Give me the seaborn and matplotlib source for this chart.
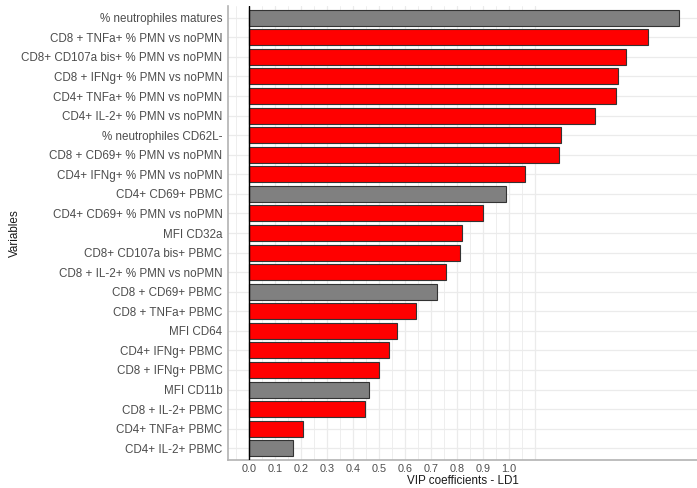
import numpy as np
import pandas as pd
import matplotlib
matplotlib.use("Agg")
import matplotlib.pyplot as plt
import seaborn as sns

variables = [
    "% neutrophiles matures",
    "CD8 + TNFa+ % PMN vs noPMN",
    "CD8+ CD107a bis+ % PMN vs noPMN",
    "CD8 + IFNg+ % PMN vs noPMN",
    "CD4+ TNFa+ % PMN vs noPMN",
    "CD4+ IL-2+ % PMN vs noPMN",
    "% neutrophiles CD62L-",
    "CD8 + CD69+ % PMN vs noPMN",
    "CD4+ IFNg+ % PMN vs noPMN",
    "CD4+ CD69+ PBMC",
    "CD4+ CD69+ % PMN vs noPMN",
    "MFI CD32a",
    "CD8+ CD107a bis+ PBMC",
    "CD8 + IL-2+ % PMN vs noPMN",
    "CD8 + CD69+ PBMC",
    "CD8 + TNFa+ PBMC",
    "MFI CD64",
    "CD4+ IFNg+ PBMC",
    "CD8 + IFNg+ PBMC",
    "MFI CD11b",
    "CD8 + IL-2+ PBMC",
    "CD4+ TNFa+ PBMC",
    "CD4+ IL-2+ PBMC",
]
vip = [1.653, 1.535, 1.450, 1.419, 1.412, 1.330, 1.201, 1.192, 1.062, 0.989,
       0.899, 0.818, 0.809, 0.756, 0.722, 0.642, 0.568, 0.537, 0.498, 0.462,
       0.446, 0.205, 0.168]
group = ["grey", "red", "red", "red", "red", "red", "red", "red", "red", "grey",
         "red", "red", "red", "red", "grey", "red", "red", "red", "red", "grey",
         "red", "red", "grey"]

df = pd.DataFrame({"variable": variables, "vip": vip, "group": group})

sns.set_theme(style="white")
plt.rcParams["font.family"] = ["Liberation Sans", "DejaVu Sans"]

fig = plt.figure(figsize=(6.97, 4.88), dpi=100)
ax = fig.add_axes([228 / 697, 28 / 488, 469 / 697, 454 / 488])

# grid first (ggplot-like minimal theme)
for x in np.arange(-0.05, 1.11, 0.05):
    ax.axvline(x, color="#EBEBEB", lw=0.6 if abs(round(x * 20) % 2) == 1 else 0.9, zorder=0)
for i in range(len(variables)):
    ax.axhline(i, color="#EBEBEB", lw=0.9, zorder=0)

sns.barplot(data=df, x="vip", y="variable", hue="group",
            palette={"red": "#FF0000", "grey": "#808080"}, saturation=1,
            order=variables, width=0.82, edgecolor="#333333", linewidth=0.8,
            legend=False, ax=ax, zorder=2)

ax.axvline(0, color="black", lw=1.0, zorder=3)

ax.set_xlim(-0.082, 1.723)
ax.set_ylim(len(variables) - 0.4, -0.6)
ax.set_xticks(np.round(np.arange(0, 1.01, 0.1), 1))
ax.set_xticklabels([f"{t:.1f}" for t in np.arange(0, 1.01, 0.1)])
ax.tick_params(axis="both", length=0, labelsize=7.8, colors="#4D4D4D", pad=3)
ax.tick_params(axis="y", labelsize=8.4, pad=4)

ax.set_xlabel("VIP coefficients - LD1", fontsize=8.4, color="#1A1A1A")
ax.set_ylabel("Variables", fontsize=8.4, color="#1A1A1A")
ax.xaxis.set_label_coords(0.5, -(481 - 460) / 454)
ax.xaxis.label.set_va("center")
ax.yaxis.set_label_coords((15 - 228) / 469, 0.5)
ax.yaxis.label.set_va("center")

for side in ["top", "right"]:
    ax.spines[side].set_visible(False)
for side in ["left", "bottom"]:
    ax.spines[side].set_color("#B3B3B3")
    ax.spines[side].set_linewidth(1.2)

fig.savefig("out.png", dpi=100)
